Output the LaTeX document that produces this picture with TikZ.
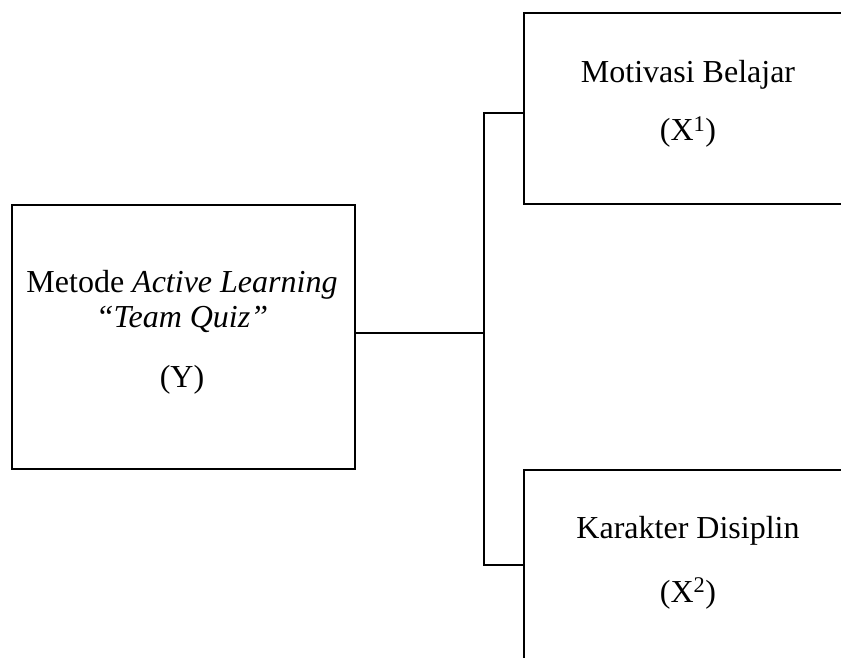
\documentclass[tikz,border=0pt]{standalone}
\usepackage{fontspec}
\setmainfont{Liberation Serif}
\begin{document}
\begin{tikzpicture}[x=1pt,y=1pt,
  boxline/.style={draw=black,line width=2.8pt},
  wire/.style={draw=black,line width=2.8pt},
  lbl/.style={anchor=base,inner sep=0pt,font=\fontsize{32}{38}\selectfont}]
\useasboundingbox (0,0) rectangle (841,-658);
\clip (0,0) rectangle (841,-658);
% boxes
\node[boxline,minimum width=343pt,minimum height=264pt,inner sep=0pt] (yb) at (183.5,-337) {};
\node[boxline,minimum width=336pt,minimum height=191pt,inner sep=0pt] (x1b) at (692,-108.5) {};
\node[boxline,minimum width=336pt,minimum height=210pt,inner sep=0pt] (x2b) at (692,-575) {};
% texts
\node[lbl] (yt1) at (182,-292) {Metode \textit{Active Learning}};
\node[lbl] (yt2) at (182,-327) {\textit{“Team Quiz”}};
\node[lbl] (yt3) at (182,-387) {(Y)};
\node[lbl] (x1t1) at (688,-83) {Motivasi Belajar};
\node[lbl] (x1t2) at (688,-141) {(X\textsuperscript{1})};
\node[lbl] (x2t1) at (688,-538) {Karakter Disiplin};
\node[lbl] (x2t2) at (688,-602) {(X\textsuperscript{2})};
% connectors
\coordinate (j) at (484,-333);
\coordinate (jt) at (484,-113);
\coordinate (jb) at (484,-565);
\draw[wire] (yb.east |- j) -- (j);
\draw[wire] (x1b.west |- jt) -- (jt) -- (jb) -- (x2b.west |- jb);
\end{tikzpicture}
\end{document}
